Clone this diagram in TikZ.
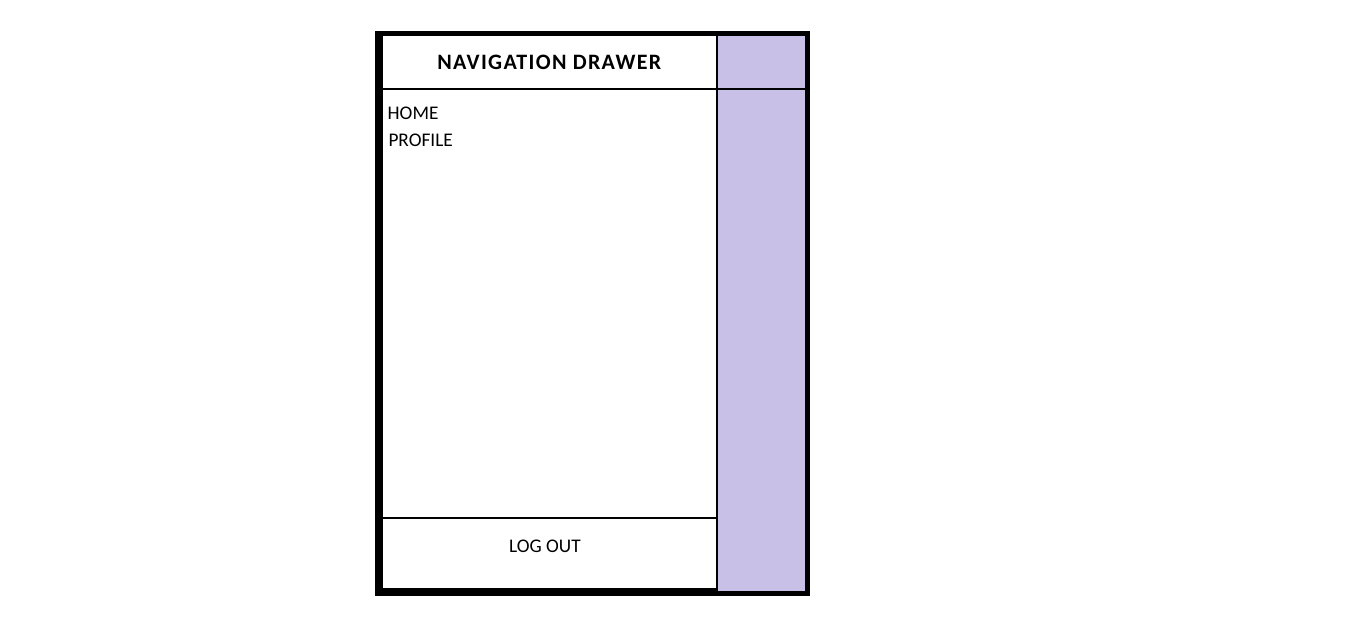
\documentclass[tikz,border=0pt]{standalone}
\usepackage{fontspec}
\setmainfont{Carlito}
\newfontfamily\titlefont[LetterSpace=6]{Carlito}
\definecolor{drawerpurple}{RGB}{200,192,230}
\begin{document}
\begin{tikzpicture}[x=1pt,y=-1pt,
  itemtext/.style={anchor=base west,inner sep=0pt,font=\fontsize{19.3}{21}\selectfont},
  titletext/.style={anchor=base,inner sep=0pt,font=\titlefont\fontsize{22}{24}\selectfont\bfseries}]
\useasboundingbox (0,0) rectangle (1360,623);
\fill[white] (0,0) rectangle (1360,623);
% outer frame
\fill[black] (375,31) rectangle (810,596);
% white drawer panel
\fill[white] (382.7,36) rectangle (716,588);
% purple scrim
\fill[drawerpurple] (718,36) rectangle (805,591);
% header separator
\draw[black,line width=1.3pt] (382,89) -- (805,89);
% log out separator
\draw[black,line width=2.6pt] (382,518) -- (716,518);
% texts
\node[titletext] (title) at (549.3,70) {NAVIGATION DRAWER};
\node[itemtext] (home) at (387.5,119.5) {HOME};
\node[itemtext] (profile) at (388.3,146.5) {PROFILE};
\node[anchor=base,inner sep=0pt,font=\fontsize{19.3}{21}\selectfont] (logout) at (545,552) {LOG OUT};
\end{tikzpicture}
\end{document}
